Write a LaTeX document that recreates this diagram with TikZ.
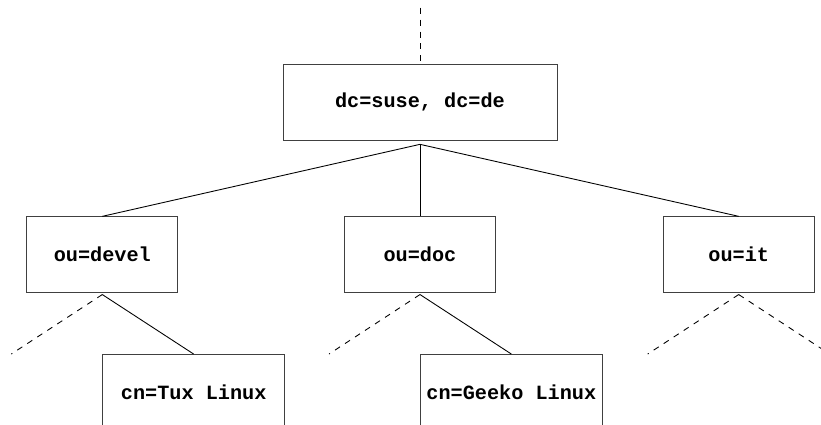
\documentclass[tikz,border=0pt]{standalone}
\usepackage{fontspec}
\setmonofont{Liberation Mono}
\usepackage{tikz}
\usetikzlibrary{positioning}
\tikzstyle{entry} = [rectangle, minimum height=1.52cm, text centered, draw=black!75, line width=0.4pt, font=\fontsize{11.5}{14}\selectfont\ttfamily\bfseries]
\tikzstyle{link} = [line width=0.5pt]
\tikzstyle{cont} = [line width=0.5pt, dash pattern=on 3.4pt off 3.4pt]

\begin{document}
\begin{tikzpicture}
   \clip (0,0) rectangle (16.42,-8.5);
   \node (r) [entry, minimum width=5.48cm] at (8.4,-2.04) {dc=suse, dc=de};
   \node (dc) [entry, minimum width=3.02cm, below=1.52cm of r] {ou=doc};
   \node (dv) [entry, minimum width=3.02cm, left=3.32cm of dc] {ou=devel};
   \node (it) [entry, minimum width=3.02cm, right=3.34cm of dc] {ou=it};
   \node (tux) [entry, minimum width=3.64cm, below right=1.22cm and 0cm of dv.south] {cn=Tux Linux};
   \node (gk) [entry, minimum width=3.64cm, below right=1.22cm and 0cm of dc.south] {cn=Geeko Linux};
   % start points just under the boxes
   \coordinate (up) at ([yshift=1.12cm]r.north);
   \coordinate (ra) at ([yshift=-0.08cm]r.south);
   \coordinate (dva) at ([yshift=-0.03cm]dv.south);
   \coordinate (dca) at ([yshift=-0.03cm]dc.south);
   \coordinate (ita) at ([yshift=-0.03cm]it.south);
   % loose ends of the dashed branches
   \coordinate (dvl) at ([shift={(-1.82cm,-1.22cm)}]dv.south);
   \coordinate (dcl) at ([shift={(-1.82cm,-1.22cm)}]dc.south);
   \coordinate (itl) at ([shift={(-1.82cm,-1.22cm)}]it.south);
   \coordinate (itr) at ([shift={(1.82cm,-1.22cm)}]it.south);
   \draw [cont] (up) -- (r);
   \draw [link] (ra) -- (dv.north);
   \draw [link] (ra) -- (dc.north);
   \draw [link] (ra) -- (it.north);
   \draw [cont] (dva) -- (dvl);
   \draw [link] (dva) -- (tux.north);
   \draw [cont] (dca) -- (dcl);
   \draw [link] (dca) -- (gk.north);
   \draw [cont] (ita) -- (itl);
   \draw [cont] (ita) -- (itr);
\end{tikzpicture}
\end{document}
